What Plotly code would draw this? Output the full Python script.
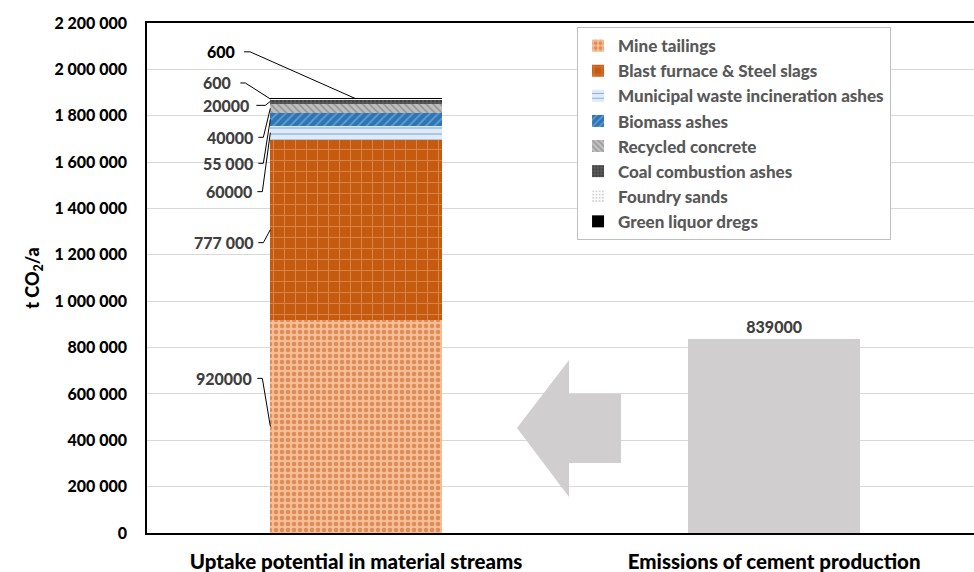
import plotly.graph_objects as go

# ---- data -------------------------------------------------------------
categories = ["Uptake potential in material streams", "Emissions of cement production"]

materials = [
    "Mine tailings",
    "Blast furnace & Steel slags",
    "Municipal waste incineration ashes",
    "Biomass ashes",
    "Recycled concrete",
    "Coal combustion ashes",
    "Foundry sands",
    "Green liquor dregs",
]
uptake_values = [920000, 777000, 60000, 55000, 40000, 20000, 600, 600]
uptake_labels = ["920000", "777 000", "60000", "55 000", "40000", "20000", "600", "600"]

cement_emissions = 839000
cement_label = "839000"

y_ticks = [0, 200000, 400000, 600000, 800000, 1000000, 1200000,
           1400000, 1600000, 1800000, 2000000, 2200000]

# ---- styling ----------------------------------------------------------
FONT = "Lato"
W = 900          # heavy weight used for every text
BAR_W = 0.41

# (background, foreground, shape, size, solidity)
patterns = [
    ("#F6BE98", "#C55A11", ".", 6, 0.45),
    ("#C55A11", "#F4B183", "+", 11, 0.16),
    ("#DEEBF7", "#2E75B6", "-", 6, 0.2),
    ("#2E75B6", "#9DC3E6", "/", 6, 0.3),
    ("#BFBFBF", "#6F6F6F", "\\", 5, 0.35),
    ("#5A5A5A", "#262626", ".", 4, 0.4),
    ("#FFFFFF", "#A6A6A6", ".", 4, 0.35),
    ("#000000", "#000000", "", 8, 0.3),
]

# Leader-line layout per segment: label offset from target (px, y up),
# horizontal stub start/end (px), whether target is bar centre, colour
leaders = [
    (-16, 48, -13, -8, False, "#404040"),
    (-15, -13, -12, -7, False, "#404040"),
    (-16, -59, -13, -8, False, "#404040"),
    (-15, -44, -12, -7, False, "#404040"),
    (-15, -29, -12, -7, False, "#404040"),
    (-19, -4, -14, -5, False, "#404040"),
    (-37, 16, -30, -25, False, "#404040"),
    (-119, 47, -112, -106, True, "#000000"),
]

fig = go.Figure()

for i, (name, val) in enumerate(zip(materials, uptake_values)):
    bg, fg, shape, size, sol = patterns[i]
    fig.add_trace(go.Bar(
        x=[categories[0]], y=[val], name=name, width=BAR_W,
        legendgroup=name,
        marker=dict(color=bg, line=dict(width=0),
                    pattern=dict(shape=shape, fgcolor=fg, bgcolor=bg,
                                 size=size, solidity=sol)),
        hoverinfo="skip",
    ))

fig.add_trace(go.Bar(
    x=[categories[1]], y=[cement_emissions], width=BAR_W, showlegend=False,
    marker=dict(color="#D0CECE", line=dict(width=0)),
    text=[cement_label], textposition="outside",
    textfont=dict(family=FONT, size=16, color="#404040", weight=W),
    cliponaxis=False, hoverinfo="skip",
))

# Value labels with leader lines pointing to each segment's midpoint
shapes = []
annotations = []
base = 0
for val, lab, (tdx, tdy, s0, s1, centre, col) in zip(uptake_values, uptake_labels, leaders):
    mid = base + val / 2
    base += val
    tx = 0 if centre else -BAR_W / 2
    annotations.append(dict(
        x=tx, y=mid, xref="x", yref="y", text=lab, showarrow=False,
        xanchor="right", yanchor="middle", xshift=tdx, yshift=tdy,
        font=dict(family=FONT, size=16, color=col, weight=W),
    ))
    shapes.append(dict(
        type="path", xref="x", yref="y", xsizemode="pixel", ysizemode="pixel",
        xanchor=tx, yanchor=mid,
        path=f"M {s0},{tdy} L {s1},{tdy} L 0,0",
        line=dict(color="#000000", width=1),
    ))

# Block arrow between the two bars
arrow_pts = [(0.4474, 0.2059), (0.5103, 0.3392), (0.5103, 0.2725), (0.5732, 0.2725),
             (0.5732, 0.1373), (0.5103, 0.1373), (0.5103, 0.0706)]
arrow_path = "M " + " L ".join(f"{x},{y}" for x, y in arrow_pts) + " Z"
shapes.append(dict(type="path", xref="paper", yref="paper", path=arrow_path,
                   fillcolor="#D0CECE", line=dict(width=0), layer="above"))

fig.update_layout(
    width=974, height=572,
    margin=dict(l=147, r=0, t=23, b=39),
    paper_bgcolor="white", plot_bgcolor="white",
    barmode="stack",
    separators=". ",
    font=dict(family=FONT, color="#000000"),
    shapes=shapes, annotations=annotations,
    showlegend=True,
    legend=dict(
        x=0.52, y=0.992, xanchor="left", yanchor="top",
        traceorder="grouped", tracegroupgap=0,
        bgcolor="white", bordercolor="#BFBFBF", borderwidth=1,
        font=dict(family=FONT, size=17, color="#595959", weight=W),
        itemclick=False,
    ),
    xaxis=dict(
        type="category", range=[-0.5, 1.478],
        showline=True, linecolor="#000000", linewidth=1.5, mirror=True,
        showgrid=False, ticks="", ticklabelstandoff=10,
        tickfont=dict(family=FONT, size=20.5, color="#000000", weight=W),
    ),
    yaxis=dict(
        range=[0, 2200000], tickvals=y_ticks, tickformat=",d",
        showline=True, linecolor="#000000", linewidth=1.5,
        showgrid=True, gridcolor="#D9D9D9", gridwidth=1,
        ticks="", ticklabelstandoff=15,
        tickfont=dict(family=FONT, size=16, color="#000000", weight=W),
        title=dict(text="t CO<sub>2</sub>/a", standoff=10,
                   font=dict(family=FONT, size=18, color="#000000", weight=W)),
        zeroline=False,
    ),
)

fig.write_html("out.html")
